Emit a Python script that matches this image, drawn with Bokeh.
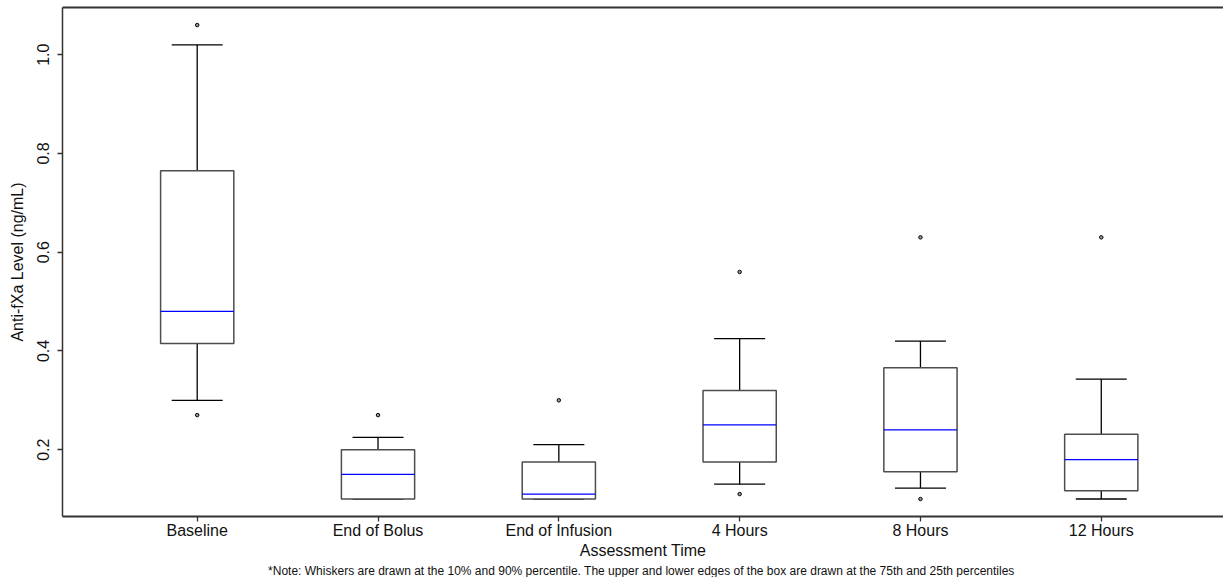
from bokeh.plotting import figure
from bokeh.models import FixedTicker, LinearAxis, Range1d, Title, PrintfTickFormatter
from bokeh.embed import file_html
from bokeh.resources import INLINE

categories = ["Baseline", "End of Bolus", "End of Infusion", "4 Hours", "8 Hours", "12 Hours"]
p10 = [0.30, 0.10, 0.10, 0.13, 0.122, 0.10]
q1 = [0.415, 0.10, 0.10, 0.175, 0.155, 0.117]
median = [0.48, 0.15, 0.11, 0.25, 0.24, 0.18]
q3 = [0.765, 0.20, 0.175, 0.32, 0.366, 0.231]
p90 = [1.02, 0.225, 0.21, 0.425, 0.42, 0.343]
outlier_cat = ["Baseline", "Baseline", "End of Bolus", "End of Infusion", "4 Hours", "4 Hours",
               "8 Hours", "8 Hours", "12 Hours"]
outlier_val = [1.06, 0.27, 0.27, 0.30, 0.56, 0.11, 0.63, 0.10, 0.63]
y_ticks = [0.2, 0.4, 0.6, 0.8, 1.0]

FONT = "Liberation Sans"
xs = list(range(len(categories)))
box_w = 0.405
cap_w = 0.282

p = figure(width=1223, height=577, output_backend="svg", toolbar_location=None,
           x_range=Range1d(-0.745, 5.676), y_range=Range1d(0.0646, 1.0956),
           min_border_left=62, min_border_right=0, min_border_top=7, min_border_bottom=0)
p.outline_line_color = None
p.grid.visible = False

# whiskers
p.segment(x0=xs, y0=q3, x1=xs, y1=p90, line_color="black", line_width=1.3)
p.segment(x0=xs, y0=q1, x1=xs, y1=p10, line_color="black", line_width=1.3)
p.segment(x0=[x - cap_w / 2 for x in xs], y0=p90, x1=[x + cap_w / 2 for x in xs], y1=p90,
          line_color="black", line_width=1.3)
p.segment(x0=[x - cap_w / 2 for x in xs], y0=p10, x1=[x + cap_w / 2 for x in xs], y1=p10,
          line_color="black", line_width=1.3)
# boxes
p.vbar(x=xs, width=box_w, top=q3, bottom=q1, fill_color="white", line_color="#4d4d4d", line_width=1.5)
# medians
p.segment(x0=[x - box_w / 2 for x in xs], y0=median, x1=[x + box_w / 2 for x in xs], y1=median,
          line_color="#0000ff", line_width=1.3)
# outliers
p.scatter(x=[categories.index(c) for c in outlier_cat], y=outlier_val, marker="circle", size=3.5,
          line_color="black", fill_color="#999999", line_width=1)

# x axis
xa = p.xaxis[0]
xa.ticker = FixedTicker(ticks=xs)
xa.major_label_overrides = {i: c for i, c in enumerate(categories)}
xa.axis_label = "Assessment Time"
# y axis
ya = p.yaxis[0]
ya.ticker = FixedTicker(ticks=y_ticks)
ya.formatter = PrintfTickFormatter(format="%.1f")
ya.major_label_orientation = "vertical"
ya.axis_label = "Anti-fXa Level (ng/mL)"

for ax in (xa, ya):
    ax.minor_tick_line_color = None
    ax.major_tick_in = 0
    ax.major_tick_out = 5
    ax.axis_line_color = "#333333"
    ax.axis_line_width = 2
    ax.major_tick_line_color = "#333333"
    ax.major_tick_line_width = 1.3
    ax.major_label_text_font = FONT
    ax.major_label_text_font_size = "16px"
    ax.major_label_text_color = "#111111"
    ax.axis_label_text_font = FONT
    ax.axis_label_text_font_size = "16px"
    ax.axis_label_text_font_style = "normal"
    ax.axis_label_text_color = "#111111"
ya.axis_line_width = 1.5
ya.major_label_standoff = 8
ya.axis_label_standoff = 9
xa.axis_label_standoff = 0
xa.major_label_standoff = 0

# top border line only
top = LinearAxis(ticker=FixedTicker(ticks=[]), major_label_text_font_size="0px",
                 axis_line_color="#333333", axis_line_width=2,
                 major_tick_line_color=None, minor_tick_line_color=None)
p.add_layout(top, "above")

note = Title(text="*Note: Whiskers are drawn at the  10% and 90% percentile. The upper and lower edges of the box are drawn at the 75th and 25th percentiles",
             align="center", text_font=FONT, text_font_size="12px", text_font_style="normal",
             text_color="#111111", standoff=0)
p.add_layout(note, "below")

open("out.html", "w").write(file_html(p, INLINE))
